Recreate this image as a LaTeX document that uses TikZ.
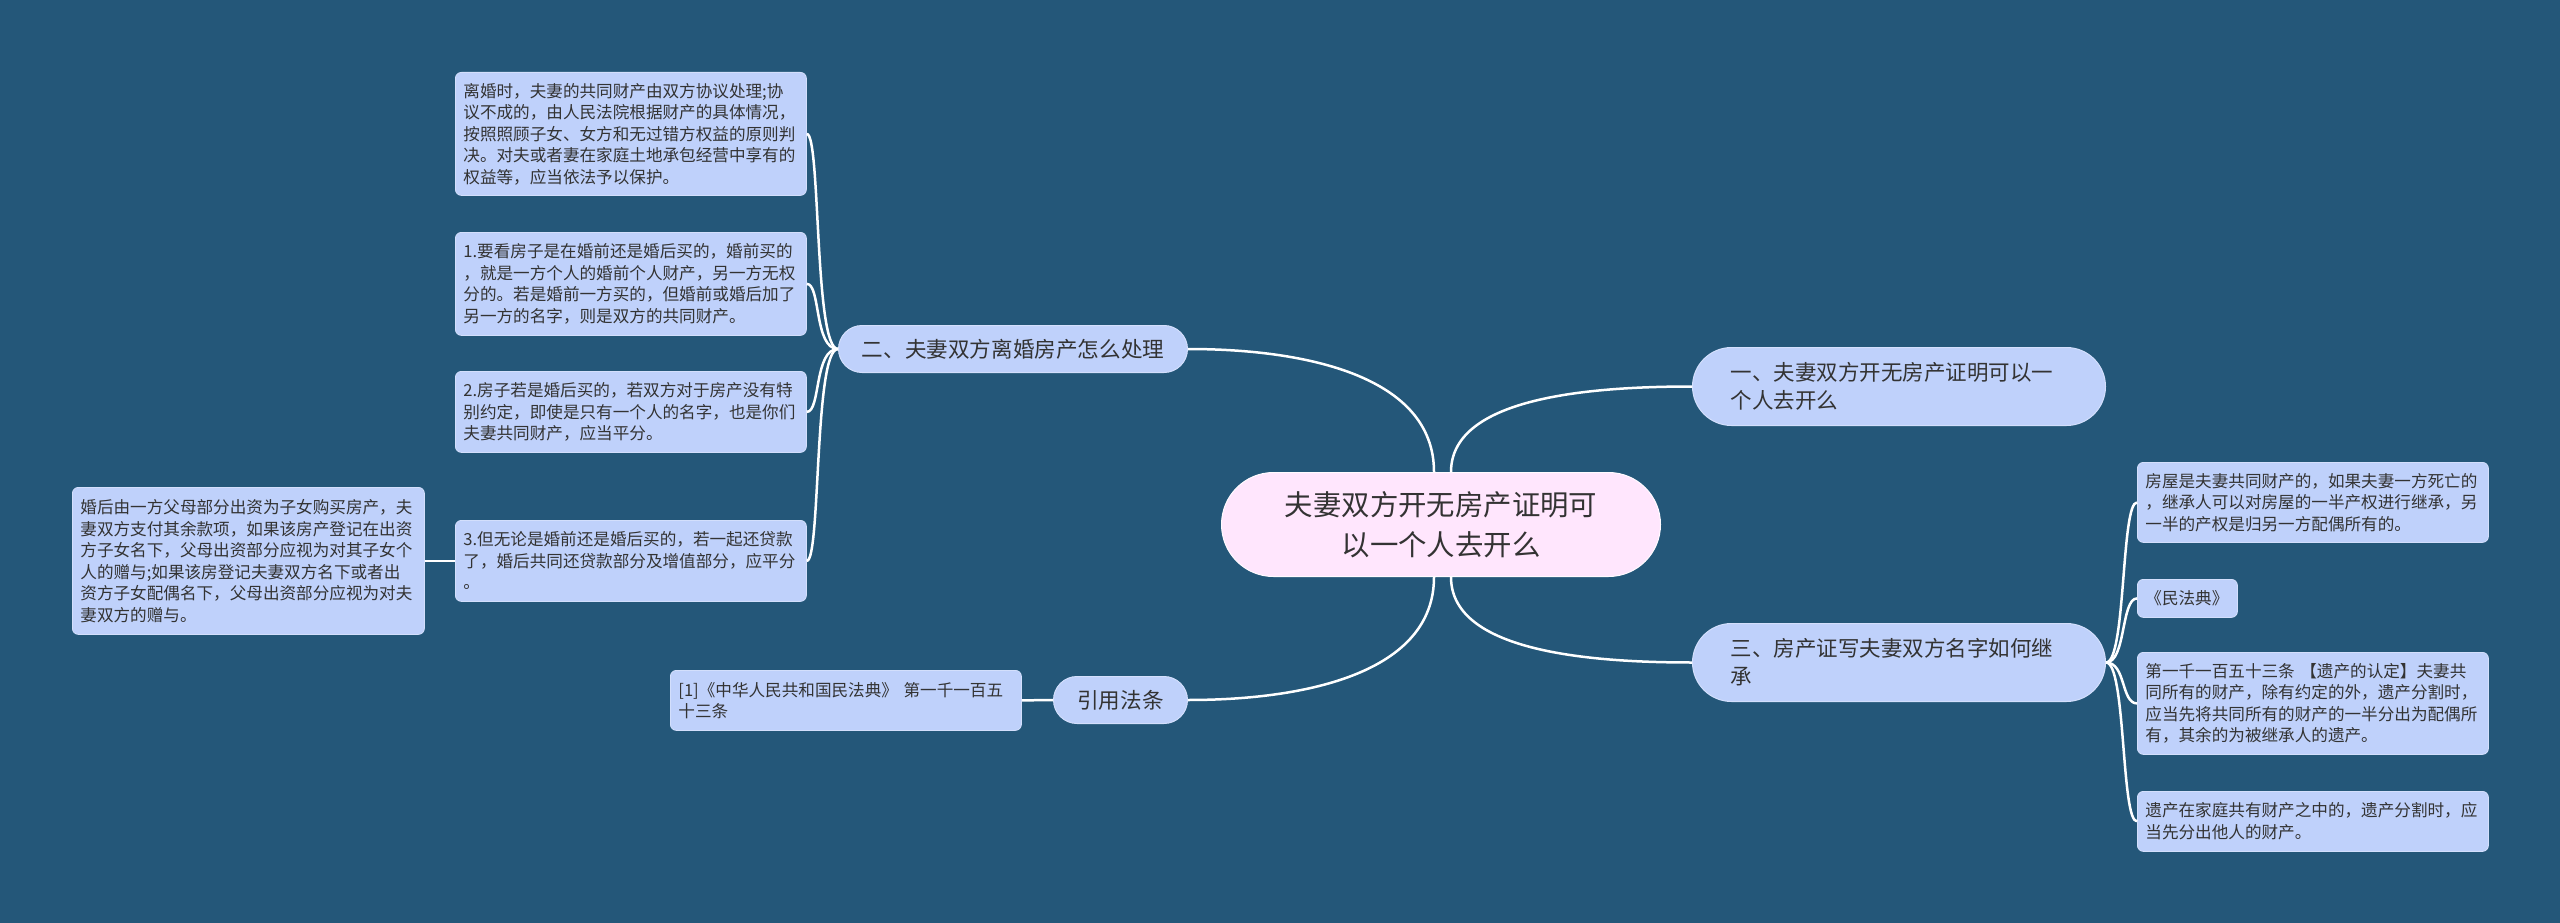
\documentclass[tikz,border=0pt]{standalone}
\usepackage{fontspec}
\newfontfamily\cjk{Noto Sans CJK SC}
\definecolor{bgc}{HTML}{245779}
\definecolor{leafc}{HTML}{BFD1FB}
\definecolor{leafb}{HTML}{D3DFFC}
\definecolor{centc}{HTML}{FFE6FD}
\definecolor{txt}{HTML}{333333}
\tikzset{
  leaf/.style={fill=leafc, draw=leafb, line width=0.8pt, rounded corners=6pt,
    inner xsep=8pt, inner ysep=0pt, align=left, anchor=north west, text=txt,
    font=\cjk\fontsize{16.6}{21.5}\selectfont},
  pill/.style={fill=leafc, draw=leafb, line width=1pt, inner ysep=0pt,
    anchor=north west, text=txt},
  conn/.style={draw=white, line width=2.5pt}
}
\begin{document}
\begin{tikzpicture}[x=1pt,y=-1pt]
\fill[bgc] (0,0) rectangle (2560,923);
\useasboundingbox (0,0) rectangle (2560,923);

% center
\node[fill=centc, draw=white!85!centc, line width=1pt, rounded corners=52pt,
  minimum width=439pt, minimum height=104pt, inner sep=0pt, align=center,
  anchor=north west, text=txt, font=\cjk\fontsize{28.4}{40}\selectfont]
  (c) at (1221,472) {夫妻双方开无房产证明可\\以一个人去开么};

% main branches
\node[pill, rounded corners=39pt, inner xsep=38pt, text width=337pt,
  minimum height=78pt, align=left, font=\cjk\fontsize{21.5}{28}\selectfont]
  (n1) at (1692,347) {一、夫妻双方开无房产证明可以一\\个人去开么};
\node[pill, rounded corners=39pt, inner xsep=38pt, text width=337pt,
  minimum height=78pt, align=left, font=\cjk\fontsize{21.5}{28}\selectfont]
  (n3) at (1692,623) {三、房产证写夫妻双方名字如何继\\承};
\node[pill, rounded corners=23.5pt, inner xsep=0pt, minimum width=349pt,
  minimum height=47pt, font=\cjk\fontsize{21.6}{28}\selectfont]
  (n2) at (838,325) {二、夫妻双方离婚房产怎么处理};
\node[pill, rounded corners=23.5pt, inner xsep=0pt, minimum width=134pt,
  minimum height=47pt, font=\cjk\fontsize{21.6}{28}\selectfont]
  (nr) at (1053,676) {引用法条};

% left leaves
\node[leaf, text width=335pt, minimum height=123pt] (L1) at (455,72)
  {离婚时，夫妻的共同财产由双方协议处理;协\\议不成的，由人民法院根据财产的具体情况，\\按照照顾子女、女方和无过错方权益的原则判\\决。对夫或者妻在家庭土地承包经营中享有的\\权益等，应当依法予以保护。};
\node[leaf, text width=335pt, minimum height=103pt] (L2) at (455,232)
  {1.要看房子是在婚前还是婚后买的，婚前买的\\，就是一方个人的婚前个人财产，另一方无权\\分的。若是婚前一方买的，但婚前或婚后加了\\另一方的名字，则是双方的共同财产。};
\node[leaf, text width=335pt, minimum height=81pt] (L3) at (455,371)
  {2.房子若是婚后买的，若双方对于房产没有特\\别约定，即使是只有一个人的名字，也是你们\\夫妻共同财产，应当平分。};
\node[leaf, text width=335pt, minimum height=81pt] (L4) at (455,520)
  {3.但无论是婚前还是婚后买的，若一起还贷款\\了，婚后共同还贷款部分及增值部分，应平分\\。};
\node[leaf, text width=336pt, minimum height=147pt] (FL) at (72,487)
  {婚后由一方父母部分出资为子女购买房产，夫\\妻双方支付其余款项，如果该房产登记在出资\\方子女名下，父母出资部分应视为对其子女个\\人的赠与;如果该房登记夫妻双方名下或者出\\资方子女配偶名下，父母出资部分应视为对夫\\妻双方的赠与。};
\node[leaf, text width=335pt, minimum height=60pt] (RF) at (670,670)
  {[1]《中华人民共和国民法典》 第一千一百五\\十三条};

% right leaves
\node[leaf, text width=335pt, minimum height=80pt] (R1) at (2137,462)
  {房屋是夫妻共同财产的，如果夫妻一方死亡的\\，继承人可以对房屋的一半产权进行继承，另\\一半的产权是归另一方配偶所有的。};
\node[leaf, text width=84pt, minimum height=38pt] (R2) at (2137,579)
  {《民法典》};
\node[leaf, text width=335pt, minimum height=102pt] (R3) at (2137,652)
  {第一千一百五十三条 【遗产的认定】夫妻共\\同所有的财产，除有约定的外，遗产分割时，\\应当先将共同所有的财产的一半分出为配偶所\\有，其余的为被继承人的遗产。};
\node[leaf, text width=335pt, minimum height=60pt] (R4) at (2137,791)
  {遗产在家庭共有财产之中的，遗产分割时，应\\当先分出他人的财产。};

% connectors from center
\draw[conn] ([xshift=-7pt]c.north) .. controls +(0,-95) and +(120,0) .. (n2.east);
\draw[conn] ([xshift=10pt]c.north) .. controls +(0,-70) and +(-120,0) .. (n1.west);
\draw[conn] ([xshift=10pt]c.south) .. controls +(0,70) and +(-120,0) .. (n3.west);
\draw[conn] ([xshift=-7pt]c.south) .. controls +(0,95) and +(120,0) .. (nr.east);

% branch 二
\foreach \t in {L1,L2,L3,L4}
  \draw[conn] (n2.west) .. controls +(-24,0) and +(14,0) .. (\t.east);
\draw[conn] (L4.west) -- (FL.east);

% reference
\draw[conn] (RF.east) -- (nr.west);

% branch 三
\foreach \t in {R1,R2,R3,R4}
  \draw[conn] (n3.east) .. controls +(20,0) and +(-16,0) .. (\t.west);
\end{tikzpicture}
\end{document}
